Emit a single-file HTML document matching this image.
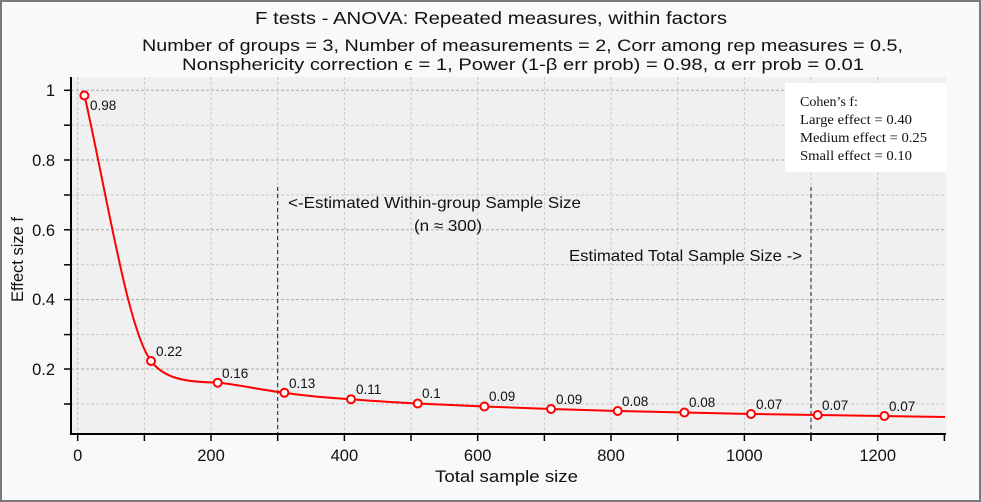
<!DOCTYPE html>
<html><head><meta charset="utf-8"><style>
body{margin:0;background:#fff}
svg{display:block}
text{font-family:"Liberation Sans","DejaVu Sans",sans-serif;fill:#111}
.s{font-family:"Liberation Serif",serif}
</style></head><body>
<svg width="981" height="502" viewBox="0 0 981 502" xmlns="http://www.w3.org/2000/svg">
<rect x="1" y="1" width="979" height="500" fill="#f9f9f9" stroke="#7a7a7a" stroke-width="2"/>
<rect x="71" y="77" width="875" height="357" fill="#f0f0f0"/>
<g stroke="#c8c8c8" stroke-width="1" stroke-dasharray="3,2">
<line x1="77.7" y1="77" x2="77.7" y2="434"/><line x1="144.4" y1="77" x2="144.4" y2="434"/>
<line x1="211" y1="77" x2="211" y2="434"/><line x1="277.7" y1="77" x2="277.7" y2="434"/>
<line x1="344.4" y1="77" x2="344.4" y2="434"/><line x1="411" y1="77" x2="411" y2="434"/>
<line x1="477.7" y1="77" x2="477.7" y2="434"/><line x1="544.4" y1="77" x2="544.4" y2="434"/>
<line x1="611" y1="77" x2="611" y2="434"/><line x1="677.7" y1="77" x2="677.7" y2="434"/>
<line x1="744.4" y1="77" x2="744.4" y2="434"/><line x1="811" y1="77" x2="811" y2="434"/>
<line x1="877.7" y1="77" x2="877.7" y2="434"/>
<line x1="71" y1="125.2" x2="946" y2="125.2"/><line x1="71" y1="195" x2="946" y2="195"/>
<line x1="71" y1="264.8" x2="946" y2="264.8"/><line x1="71" y1="334.6" x2="946" y2="334.6"/>
<line x1="71" y1="404" x2="946" y2="404"/>
</g>
<g stroke="#aaa" stroke-width="1" stroke-dasharray="3,2">
<line x1="71" y1="90.3" x2="946" y2="90.3"/><line x1="71" y1="160" x2="946" y2="160"/>
<line x1="71" y1="229.8" x2="946" y2="229.8"/><line x1="71" y1="299.6" x2="946" y2="299.6"/>
<line x1="71" y1="369" x2="946" y2="369"/>
</g>
<g stroke="#000" stroke-width="2">
<line x1="71" y1="77" x2="71" y2="435"/><line x1="70" y1="434" x2="946" y2="434"/>
</g>
<g stroke="#000" stroke-width="1.5">
<line x1="64" y1="90.3" x2="71" y2="90.3"/><line x1="64" y1="125.2" x2="71" y2="125.2"/>
<line x1="64" y1="160" x2="71" y2="160"/><line x1="64" y1="195" x2="71" y2="195"/>
<line x1="64" y1="229.8" x2="71" y2="229.8"/><line x1="64" y1="264.8" x2="71" y2="264.8"/>
<line x1="64" y1="299.6" x2="71" y2="299.6"/><line x1="64" y1="334.6" x2="71" y2="334.6"/>
<line x1="64" y1="369" x2="71" y2="369"/><line x1="64" y1="404" x2="71" y2="404"/>
<line x1="77.7" y1="434" x2="77.7" y2="441"/><line x1="144.4" y1="434" x2="144.4" y2="441"/>
<line x1="211" y1="434" x2="211" y2="441"/><line x1="277.7" y1="434" x2="277.7" y2="441"/>
<line x1="344.4" y1="434" x2="344.4" y2="441"/><line x1="411" y1="434" x2="411" y2="441"/>
<line x1="477.7" y1="434" x2="477.7" y2="441"/><line x1="544.4" y1="434" x2="544.4" y2="441"/>
<line x1="611" y1="434" x2="611" y2="441"/><line x1="677.7" y1="434" x2="677.7" y2="441"/>
<line x1="744.4" y1="434" x2="744.4" y2="441"/><line x1="811" y1="434" x2="811" y2="441"/>
<line x1="877.7" y1="434" x2="877.7" y2="441"/><line x1="944.4" y1="434" x2="944.4" y2="441"/>
</g>
<g font-size="16.5" text-anchor="end">
<text x="55" y="96">1</text><text x="55" y="166">0.8</text><text x="55" y="236">0.6</text>
<text x="55" y="305">0.4</text><text x="55" y="375">0.2</text>
</g>
<g font-size="16.5" text-anchor="middle">
<text x="77.7" y="461">0</text><text x="211" y="461">200</text><text x="344.4" y="461">400</text>
<text x="477.7" y="461">600</text><text x="611" y="461">800</text><text x="744.4" y="461">1000</text>
<text x="877.7" y="461">1200</text>
</g>
<text x="435" y="482" font-size="16.5" textLength="143" lengthAdjust="spacingAndGlyphs">Total sample size</text>
<text transform="translate(23,302) rotate(-90)" font-size="16.5" textLength="85" lengthAdjust="spacingAndGlyphs">Effect size f</text>
<text x="255" y="24" font-size="17.5" textLength="472" lengthAdjust="spacingAndGlyphs">F tests - ANOVA: Repeated measures, within factors</text>
<text x="142" y="51" font-size="16.5" textLength="761" lengthAdjust="spacingAndGlyphs">Number of groups = 3, Number of measurements = 2, Corr among rep measures = 0.5,</text>
<text x="182" y="70" font-size="16.5" textLength="682" lengthAdjust="spacingAndGlyphs">Nonsphericity correction ϵ = 1, Power (1-β err prob) = 0.98, α err prob = 0.01</text>
<g stroke="#0a1a4a" stroke-width="1" stroke-dasharray="4,3">
<line x1="277.7" y1="187" x2="277.7" y2="434"/><line x1="811" y1="187" x2="811" y2="434"/>
</g>
<g font-size="16">
<text x="288" y="208" textLength="293" lengthAdjust="spacingAndGlyphs">&lt;-Estimated Within-group Sample Size</text>
<text x="414" y="231" textLength="68" lengthAdjust="spacingAndGlyphs">(n ≈ 300)</text>
<text x="569" y="261" textLength="233" lengthAdjust="spacingAndGlyphs">Estimated Total Sample Size -&gt;</text>
</g>
<path d="M84.4,95 C108,200 128,330 151,361 C163,377 182,382.5 217.7,382.5 C240,385 262,390 284.4,392.8 C306,396 330,398 351,399.2 C375,401 395,402.5 417.7,403.5 L484.4,406.5 L551,409 L617.7,411 L684.4,412.5 L751,414 L817.7,415 L884.4,416 L945,417" fill="none" stroke="#ff0000" stroke-width="2"/>
<g fill="#fff" stroke="#ff0000" stroke-width="2">
<circle cx="84.4" cy="95.5" r="4"/><circle cx="151" cy="361" r="4"/><circle cx="217.7" cy="382.7" r="4"/>
<circle cx="284.4" cy="392.8" r="4"/><circle cx="351" cy="399.2" r="4"/><circle cx="417.7" cy="403.5" r="4"/>
<circle cx="484.4" cy="406.5" r="4"/><circle cx="551" cy="409" r="4"/><circle cx="617.7" cy="411" r="4"/>
<circle cx="684.4" cy="412.5" r="4"/><circle cx="751" cy="414" r="4"/><circle cx="817.7" cy="415" r="4"/>
<circle cx="884.4" cy="416" r="4"/>
</g>
<g font-size="13.5">
<text x="90" y="110">0.98</text><text x="156" y="356">0.22</text><text x="222" y="378">0.16</text>
<text x="289" y="388">0.13</text><text x="356" y="394">0.11</text><text x="422" y="398">0.1</text>
<text x="489" y="401">0.09</text><text x="556" y="404">0.09</text><text x="622" y="406">0.08</text>
<text x="689" y="407">0.08</text><text x="756" y="409">0.07</text><text x="822" y="410">0.07</text>
<text x="889" y="411">0.07</text>
</g>
<rect x="785" y="83" width="162" height="89" fill="#fff"/>
<g font-size="14">
<text class="s" x="800" y="106">Cohen’s f:</text>
<text class="s" x="800" y="124" textLength="112" lengthAdjust="spacingAndGlyphs">Large effect = 0.40</text>
<text class="s" x="800" y="142" textLength="127" lengthAdjust="spacingAndGlyphs">Medium effect = 0.25</text>
<text class="s" x="800" y="160" textLength="112" lengthAdjust="spacingAndGlyphs">Small effect = 0.10</text>
</g>
</svg>
</body></html>
